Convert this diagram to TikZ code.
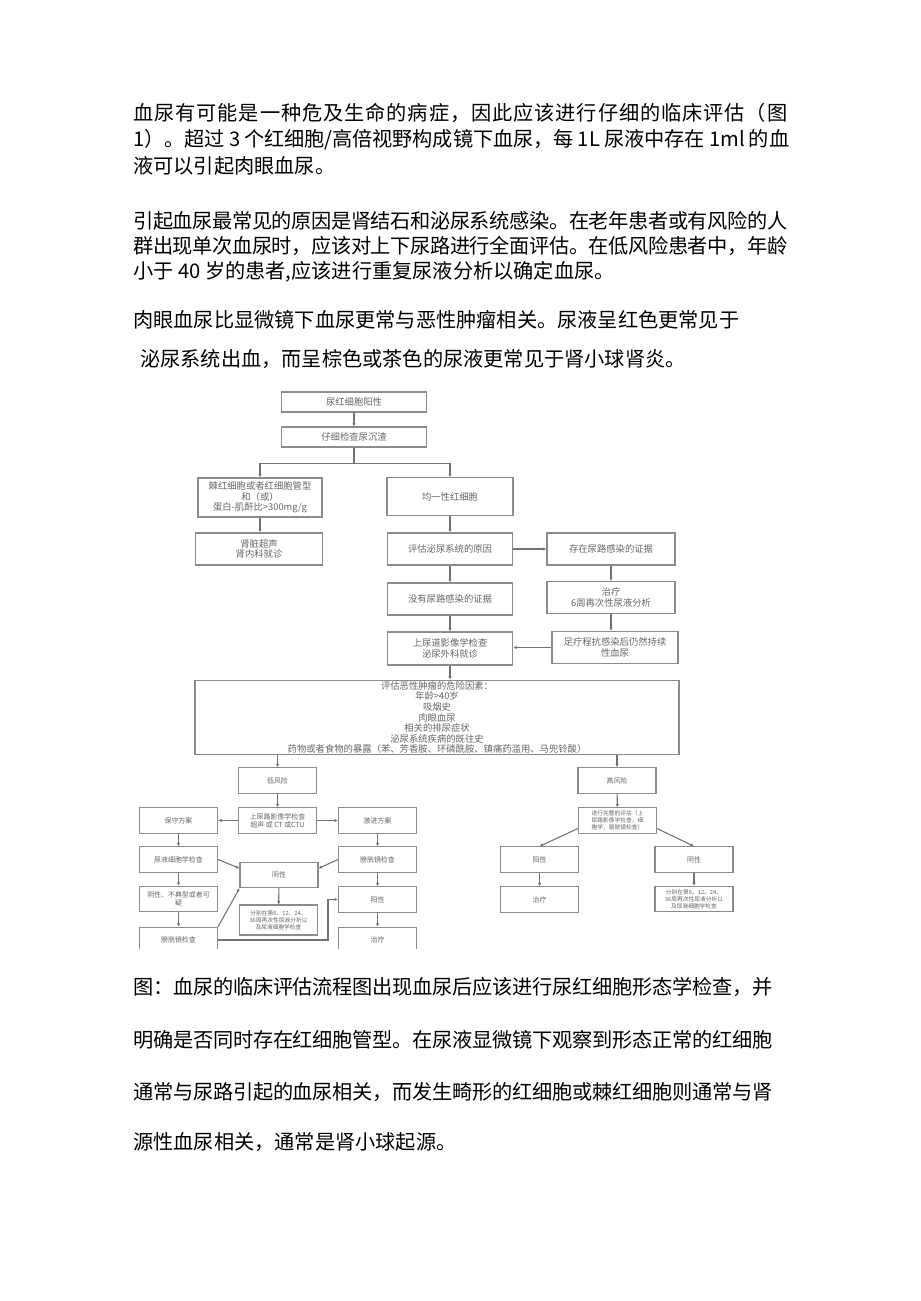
\documentclass[tikz,border=0pt]{standalone}
\usepackage{fontspec}
\setmainfont{Noto Sans CJK SC}
\usetikzlibrary{arrows.meta,calc}
\newcount\hemaCode
\newcommand{\hemaClassRange}[2]{\hemaCode=#1\relax\loop\XeTeXcharclass\hemaCode=1\relax\advance\hemaCode by 1\relax\ifnum\hemaCode<#2\relax\repeat}
\hemaClassRange{"3000}{"3040}
\hemaClassRange{"4E00}{"A000}
\hemaClassRange{"FF00}{"FFF0}
\newcommand{\hemaGlue}{\hskip 0pt plus 1pt minus 0.5pt\relax}
\newcommand{\hemaSpread}{\XeTeXinterchartokenstate=1\relax}
\XeTeXinterchartoks 1 1 = {\hemaGlue}
\XeTeXinterchartoks 0 1 = {\hemaGlue}
\XeTeXinterchartoks 1 0 = {\hemaGlue}
\tikzset{
  hemaBox/.style={draw=black!45, line width=0.8pt, fill=white, align=center, text=black!60, font=\fontsize{7}{7.9}\selectfont, inner sep=1pt, minimum width=94pt, minimum height=24pt},
  hemaSmall/.style={hemaBox, font=\fontsize{5.2}{6.2}\selectfont, minimum width=58.5pt, minimum height=19pt},
  hemaTiny/.style={hemaSmall, font=\fontsize{4.3}{5.3}\selectfont},
  hemaArrow/.style={-{Latex[length=2.6pt,width=2.6pt]}, draw=black!55, line width=0.8pt},
  hemaText/.style={anchor=west, inner sep=0pt, font=\fontsize{15.15}{18}\selectfont\hemaSpread}
}
\newcommand{\hemaJust}[2]{\makebox[#1][s]{#2}}
\begin{document}
\begin{tikzpicture}[x=0.75pt, y=-0.75pt, >=Latex]
  \useasboundingbox (0,0) rectangle (920,1301);
  \node[hemaText] (introA) at (133,113) {\hemaJust{490.5pt}{血尿有可能是一种危及生命的病症，因此应该进行仔细的临床评估（图}};
  \node[hemaText] (introB) at (133,140) {\hemaJust{492pt}{1）。超过 3 个红细胞/高倍视野构成镜下血尿，每 1L 尿液中存在 1ml 的血}};
  \node[hemaText] (introC) at (133,166) {液可以引起肉眼血尿。};
  \node[hemaText] (causeA) at (133,221) {\hemaJust{490.5pt}{引起血尿最常见的原因是肾结石和泌尿系统感染。在老年患者或有风险的人}};
  \node[hemaText] (causeB) at (133,246) {\hemaJust{490.5pt}{群出现单次血尿时，应该对上下尿路进行全面评估。在低风险患者中，年龄}};
  \node[hemaText] (causeC) at (133,272) {小于 40 岁的患者,应该进行重复尿液分析以确定血尿。};
  \node[hemaText] (grossA) at (133,320) {肉眼血尿比显微镜下血尿更常与恶性肿瘤相关。尿液呈红色更常见于};
  \node[hemaText] (grossB) at (140,359) {泌尿系统出血，而呈棕色或茶色的尿液更常见于肾小球肾炎。};
  \node[hemaText] (captA) at (133,987) {\hemaJust{479.25pt}{图：血尿的临床评估流程图出现血尿后应该进行尿红细胞形态学检查，并}};
  \node[hemaText] (captB) at (133,1040) {\hemaJust{479.25pt}{明确是否同时存在红细胞管型。在尿液显微镜下观察到形态正常的红细胞}};
  \node[hemaText] (captC) at (133,1092) {\hemaJust{479.25pt}{通常与尿路引起的血尿相关，而发生畸形的红细胞或棘红细胞则通常与肾}};
  \node[hemaText] (captD) at (133,1142) {源性血尿相关，通常是肾小球起源。};
  \begin{scope}
    \clip (130,380) rectangle (790,948);
    \node[hemaBox, minimum width=108.75pt, minimum height=15pt] (urineRbc) at (354,402) {尿红细胞阳性};
    \node[hemaBox, minimum width=108.75pt, minimum height=15pt] (sediment) at (354,437) {仔细检查尿沉渣};
    \node[hemaBox, minimum width=93pt, minimum height=29.25pt] (dysmorph) at (260,497.5) {棘红细胞或者红细胞管型\\和（或）\\蛋白-肌酐比>300mg/g};
    \node[hemaBox, minimum width=94.5pt, minimum height=28pt] (isomorph) at (450,496.5) {均一性红细胞};
    \node[hemaBox, minimum width=95.25pt] (renalUs) at (259,549) {肾脏超声\\肾内科就诊};
    \node[hemaBox] (evalUro) at (450,549) {评估泌尿系统的原因};
    \node[hemaBox, minimum width=96pt] (utiYes) at (611,549) {存在尿路感染的证据};
    \node[hemaBox] (utiNo) at (450,599) {没有尿路感染的证据};
    \node[hemaBox, minimum width=96pt] (utiTreat) at (611,597.5) {治疗\\6周再次性尿液分析};
    \node[hemaBox, minimum height=24.75pt] (upperImg) at (450,648.5) {上尿道影像学检查\\泌尿外科就诊};
    \node[hemaBox, minimum width=94.5pt] (persist) at (615,647.5) {足疗程抗感染后仍然持续\\性血尿};
    \node[hemaBox, minimum width=363pt, minimum height=53.25pt] (riskEval) at (437,717.5) {评估恶性肿瘤的危险因素：\\年龄>40岁\\吸烟史\\肉眼血尿\\相关的排尿症状\\泌尿系统疾病的既往史\\药物或者食物的暴露（苯、芳香胺、环磷酰胺、镇痛药滥用、马兜铃酸）};
    \node[hemaSmall] (lowRisk) at (277.5,780.5) {低风险};
    \node[hemaSmall] (highRisk) at (617,780.5) {高风险};
    \node[hemaSmall] (upperTract) at (277.5,820.5) {上尿路影像学检查\\超声 或 CT 或CTU};
    \node[hemaSmall] (conserv) at (178.5,820.5) {保守方案};
    \node[hemaSmall] (aggress) at (377.5,820.5) {激进方案};
    \node[hemaSmall] (cytology) at (178.5,859.5) {尿液细胞学检查};
    \node[hemaSmall] (cystoR) at (377.5,859.5) {膀胱镜检查};
    \node[hemaSmall] (negMid) at (279,875) {阴性};
    \node[hemaSmall] (atypical) at (178.5,899) {阴性、不典型或者可\\疑};
    \node[hemaTiny, minimum height=22.5pt] (followMid) at (278.5,920) {分别在第6、12、24、\\36周再次性尿液分析以\\及尿液细胞学检查};
    \node[hemaSmall] (posR) at (377.5,899.5) {阳性};
    \node[hemaSmall] (cystoL) at (178.5,940) {膀胱镜检查};
    \node[hemaSmall] (treatR) at (377.5,940) {治疗};
    \node[hemaTiny] (fullEval) at (617.5,820.5) {进行完整的评估（上\\尿路影像学检查，细\\胞学，膀胱镜检查）};
    \node[hemaSmall] (posHigh) at (539.5,859.5) {阳性};
    \node[hemaSmall] (negHigh) at (694,859.5) {阴性};
    \node[hemaSmall] (treatHigh) at (539.5,899.5) {治疗};
    \node[hemaTiny] (followHigh) at (694,899) {分别在第6、12、24、\\36周再次性尿液分析以\\及尿液细胞学检查};
    \draw[hemaArrow] (urineRbc) -- (sediment);
    \draw[hemaArrow] (sediment.south) -- ++(0,16) -| (dysmorph.north);
    \draw[hemaArrow] (sediment.south) -- ++(0,16) -| (isomorph.north);
    \draw[hemaArrow] (dysmorph.south) -- (dysmorph.south |- renalUs.north);
    \draw[hemaArrow] (isomorph) -- (evalUro);
    \draw[hemaArrow] (evalUro) -- (utiYes);
    \draw[hemaArrow] (evalUro) -- (utiNo);
    \draw[hemaArrow] (utiYes) -- (utiTreat);
    \draw[hemaArrow] (utiTreat.south) -- (utiTreat.south |- persist.north);
    \draw[hemaArrow] (utiNo) -- (upperImg);
    \draw[hemaArrow] (persist.west) -- (persist.west -| upperImg.east);
    \draw[hemaArrow] (upperImg.south) -- (upperImg.south |- riskEval.north);
    \draw[hemaArrow] (riskEval.south -| lowRisk.north) -- (lowRisk.north);
    \draw[hemaArrow] (riskEval.south -| highRisk.north) -- (highRisk.north);
    \draw[hemaArrow] (lowRisk) -- (upperTract);
    \draw[hemaArrow] (upperTract) -- (conserv);
    \draw[hemaArrow] (upperTract) -- (aggress);
    \draw[hemaArrow] (conserv) -- (cytology);
    \draw[hemaArrow] (cytology) -- (atypical);
    \draw[hemaArrow] (atypical) -- (cystoL);
    \draw[hemaArrow] (aggress) -- (cystoR);
    \draw[hemaArrow] (cystoR) -- (posR);
    \draw[hemaArrow] (posR) -- (treatR);
    \draw[hemaArrow] (cytology.east) -- ([yshift=5pt]negMid.west);
    \draw[hemaArrow] (cystoR.west) -- ([yshift=5pt]negMid.east);
    \draw[hemaArrow] (cystoL.north east) -- (negMid.south west);
    \draw[hemaArrow] (cystoL.east) -| ($(posR.west)+(-10,0)$) -- (posR.west);
    \draw[hemaArrow] (negMid) -- (followMid);
    \draw[hemaArrow] (highRisk) -- (fullEval);
    \draw[hemaArrow] ([yshift=-6pt]fullEval.west) -- (posHigh.north);
    \draw[hemaArrow] ([yshift=-6pt]fullEval.east) -- (negHigh.north);
    \draw[hemaArrow] (posHigh) -- (treatHigh);
    \draw[hemaArrow] (negHigh) -- (followHigh);
  \end{scope}
\end{tikzpicture}
\end{document}
